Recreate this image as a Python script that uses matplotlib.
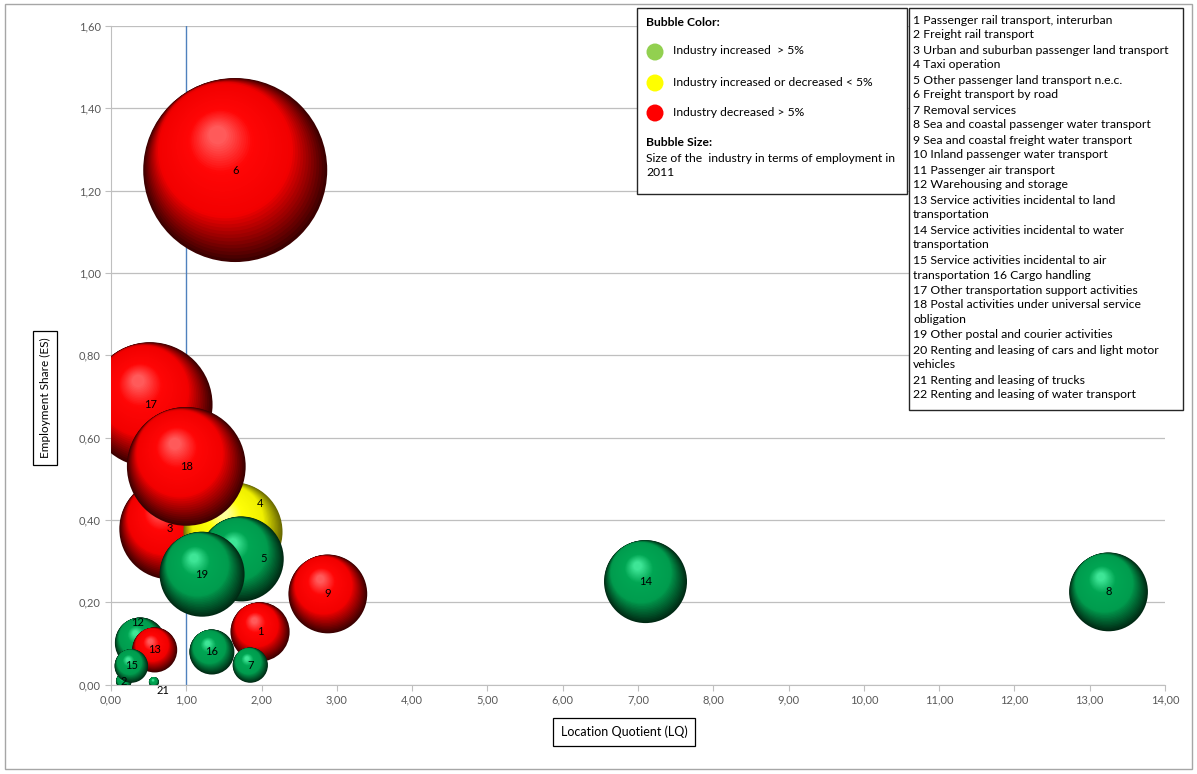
import matplotlib
matplotlib.use('Agg')
import matplotlib.pyplot as plt
from matplotlib.patches import Rectangle, Ellipse
from matplotlib.colors import to_rgb
import numpy as np

plt.rcParams['font.family'] = ['Lato', 'DejaVu Sans']

# industries drawn as bubbles (numbers refer to the list on the right)
ids = [1, 2, 3, 4, 5, 6, 7, 8, 9, 12, 13, 14, 15, 16, 17, 18, 19, 21]
lq = [1.98, 0.17, 0.78, 1.62, 1.73, 1.65, 1.85, 13.25, 2.88, 0.39, 0.58, 7.10, 0.27, 1.34, 0.52, 1.00, 1.21, 0.57]
es = [0.128, 0.008, 0.378, 0.371, 0.305, 1.25, 0.047, 0.225, 0.22, 0.101, 0.084, 0.25, 0.045, 0.079, 0.68, 0.53, 0.268, 0.006]
employment = [31, 2.2, 90, 87, 64, 300, 11, 55, 55, 23, 18, 61, 10, 18, 138, 125, 64, 0.9]
change = ['dec', 'inc', 'dec', 'flat', 'inc', 'dec', 'inc', 'inc', 'dec',
          'inc', 'dec', 'inc', 'inc', 'inc', 'dec', 'dec', 'inc', 'inc']

x_ticks = [0, 1, 2, 3, 4, 5, 6, 7, 8, 9, 10, 11, 12, 13, 14]
y_ticks = [0, 0.2, 0.4, 0.6, 0.8, 1.0, 1.2, 1.4, 1.6]

industries = [
    "1 Passenger rail transport, interurban",
    "2 Freight rail transport",
    "3 Urban and suburban passenger land transport",
    "4 Taxi operation",
    "5 Other passenger land transport n.e.c.",
    "6 Freight transport by road",
    "7 Removal services",
    "8 Sea and coastal passenger water transport",
    "9 Sea and coastal freight water transport",
    "10 Inland passenger water transport",
    "11 Passenger air transport",
    "12 Warehousing and storage",
    "13 Service activities incidental to land",
    "transportation",
    "14 Service activities incidental to water",
    "transportation",
    "15 Service activities incidental to air",
    "transportation 16 Cargo handling",
    "17 Other transportation support activities",
    "18 Postal activities under universal service",
    "obligation",
    "19 Other postal and courier activities",
    "20 Renting and leasing of cars and light motor",
    "vehicles",
    "21 Renting and leasing of trucks",
    "22 Renting and leasing of water transport",
]

# sphere colours: dark rim, body, body, highlight
shades = {
    'inc': ['#002a14', '#009c4e', '#00a653', '#3ee596'],
    'dec': ['#3c0000', '#f20000', '#ff0606', '#ff5a5a'],
    'flat': ['#6a6a00', '#f0f000', '#ffff08', '#ffff9a'],
}
flat_colors = {'inc': '#92D050', 'flat': '#FFFF00', 'dec': '#FF0000'}

# labels that were moved off the bubble centre (pixels)
label_shift = {4: (27, 28), 5: (22, 0), 12: (-3, 20), 21: (9, -8)}

W, H = 1197, 774
fig = plt.figure(figsize=(W / 100, H / 100), dpi=100)
ax = fig.add_axes([111 / W, 1 - 684.5 / H, (1165 - 111) / W, (684.5 - 26) / H])

ax.set_xlim(0, 14)
ax.set_ylim(0, 1.6)
ax.set_xticks(x_ticks)
ax.set_yticks(y_ticks)
ax.set_xticklabels([f"{v:.2f}".replace('.', ',') for v in x_ticks])
ax.set_yticklabels([f"{v:.2f}".replace('.', ',') for v in y_ticks])
ax.tick_params(colors='#bfbfbf', labelcolor='#595959', labelsize=8, length=4, width=0.8)
ax.grid(axis='y', color='#bfbfbf', lw=0.9)
ax.set_axisbelow(True)
for s in ['top', 'right']:
    ax.spines[s].set_visible(False)
for s in ['left', 'bottom']:
    ax.spines[s].set_color('#bfbfbf')

# LQ = 1 reference line
ax.plot([1, 1], [0, 1.6], color='#4f81bd', lw=1, zorder=1.5)

# bubbles, area proportional to employment, shaded like spheres
max_diam_pt = 184 * 0.72
fig.canvas.draw()
to_disp = ax.transData
to_data = ax.transData.inverted()
n = 45
t = np.linspace(0, 1, n)
f = 1 - 0.9 * t
# rim layers hug the upper-left edge, inner layers drift slower toward the highlight
o = np.where(f > 0.75, 0.92 * (1 - f), 0.92 * 0.25 + 0.3 * (0.75 - f))
hdir = np.array([-0.45, 0.89]) / np.hypot(0.45, 0.89)
for i, k in enumerate(ids):
    diam_pt = max_diam_pt * np.sqrt(employment[i] / max(employment))
    r_px = diam_pt / 0.72 / 2
    c = to_disp.transform((lq[i], es[i]))
    off = (o * r_px)[:, None] * hdir[None, :]
    pts = to_data.transform(c + off)
    cols = [to_rgb(h) for h in shades[change[i]]]
    rgb = np.array([[np.interp(tt, [0, 0.3, 0.72, 1], [cc[j] for cc in cols]) for j in range(3)]
                    for tt in t])
    ax.scatter(pts[:, 0], pts[:, 1], s=(diam_pt * f) ** 2, c=rgb, linewidths=0, zorder=2 + i)
    dx, dy = label_shift.get(k, (0, 0))
    ax.annotate(str(k), (lq[i], es[i]), xytext=(dx, dy), textcoords='offset pixels',
                ha='center', va='center', fontsize=8, color='black', zorder=100,
                annotation_clip=False)


def fx(px):
    return px / W


def fy(py):
    return 1 - py / H


# axis titles in boxes
fig.text(fx(624), fy(732), "Location Quotient (LQ)", ha='center', va='center', fontsize=9,
         bbox=dict(boxstyle='square,pad=0.6', fc='white', ec='black', lw=0.9))
fig.text(fx(45), fy(398), "Employment Share (ES)", ha='center', va='center', fontsize=8.5,
         rotation=90, bbox=dict(boxstyle='square,pad=0.55', fc='white', ec='black', lw=0.9))

# colour / size legend
fig.add_artist(Rectangle((fx(637), fy(194)), fx(907) - fx(637), fy(8) - fy(194),
                         transform=fig.transFigure, fc='white', ec='#262626', lw=1, zorder=5))
fig.text(fx(646), fy(22), "Bubble Color:", fontsize=8.7, fontweight='bold', va='center', zorder=6)
legend_rows = [('inc', "Industry increased  > 5%", 51),
               ('flat', "Industry increased or decreased < 5%", 82),
               ('dec', "Industry decreased > 5%", 112)]
for key, txt, py in legend_rows:
    fig.add_artist(Ellipse((fx(655), fy(py + 1)), 17 / W, 17 / H, transform=fig.transFigure,
                           fc=flat_colors[key], ec='none', zorder=6))
    fig.text(fx(673), fy(py), txt, fontsize=8.7, va='center', zorder=6)
fig.text(fx(646), fy(142), "Bubble Size:", fontsize=8.7, fontweight='bold', va='center', zorder=6)
fig.text(fx(646), fy(158), "Size of the  industry in terms of employment in", fontsize=8.7,
         va='center', zorder=6)
fig.text(fx(646), fy(173), "2011", fontsize=8.7, va='center', zorder=6)

# industry list
fig.add_artist(Rectangle((fx(909), fy(410)), fx(1183) - fx(909), fy(8) - fy(410),
                         transform=fig.transFigure, fc='white', ec='#262626', lw=1, zorder=5))
for j, line in enumerate(industries):
    fig.text(fx(913), fy(20 + 15 * j), line, fontsize=8.8, va='center', zorder=6)

# outer chart border
fig.add_artist(Rectangle((fx(5), fy(769)), fx(1192) - fx(5), fy(4) - fy(769),
                         transform=fig.transFigure, fill=False, ec='#a6a6a6', lw=1))

fig.savefig('out.png', dpi=100)
